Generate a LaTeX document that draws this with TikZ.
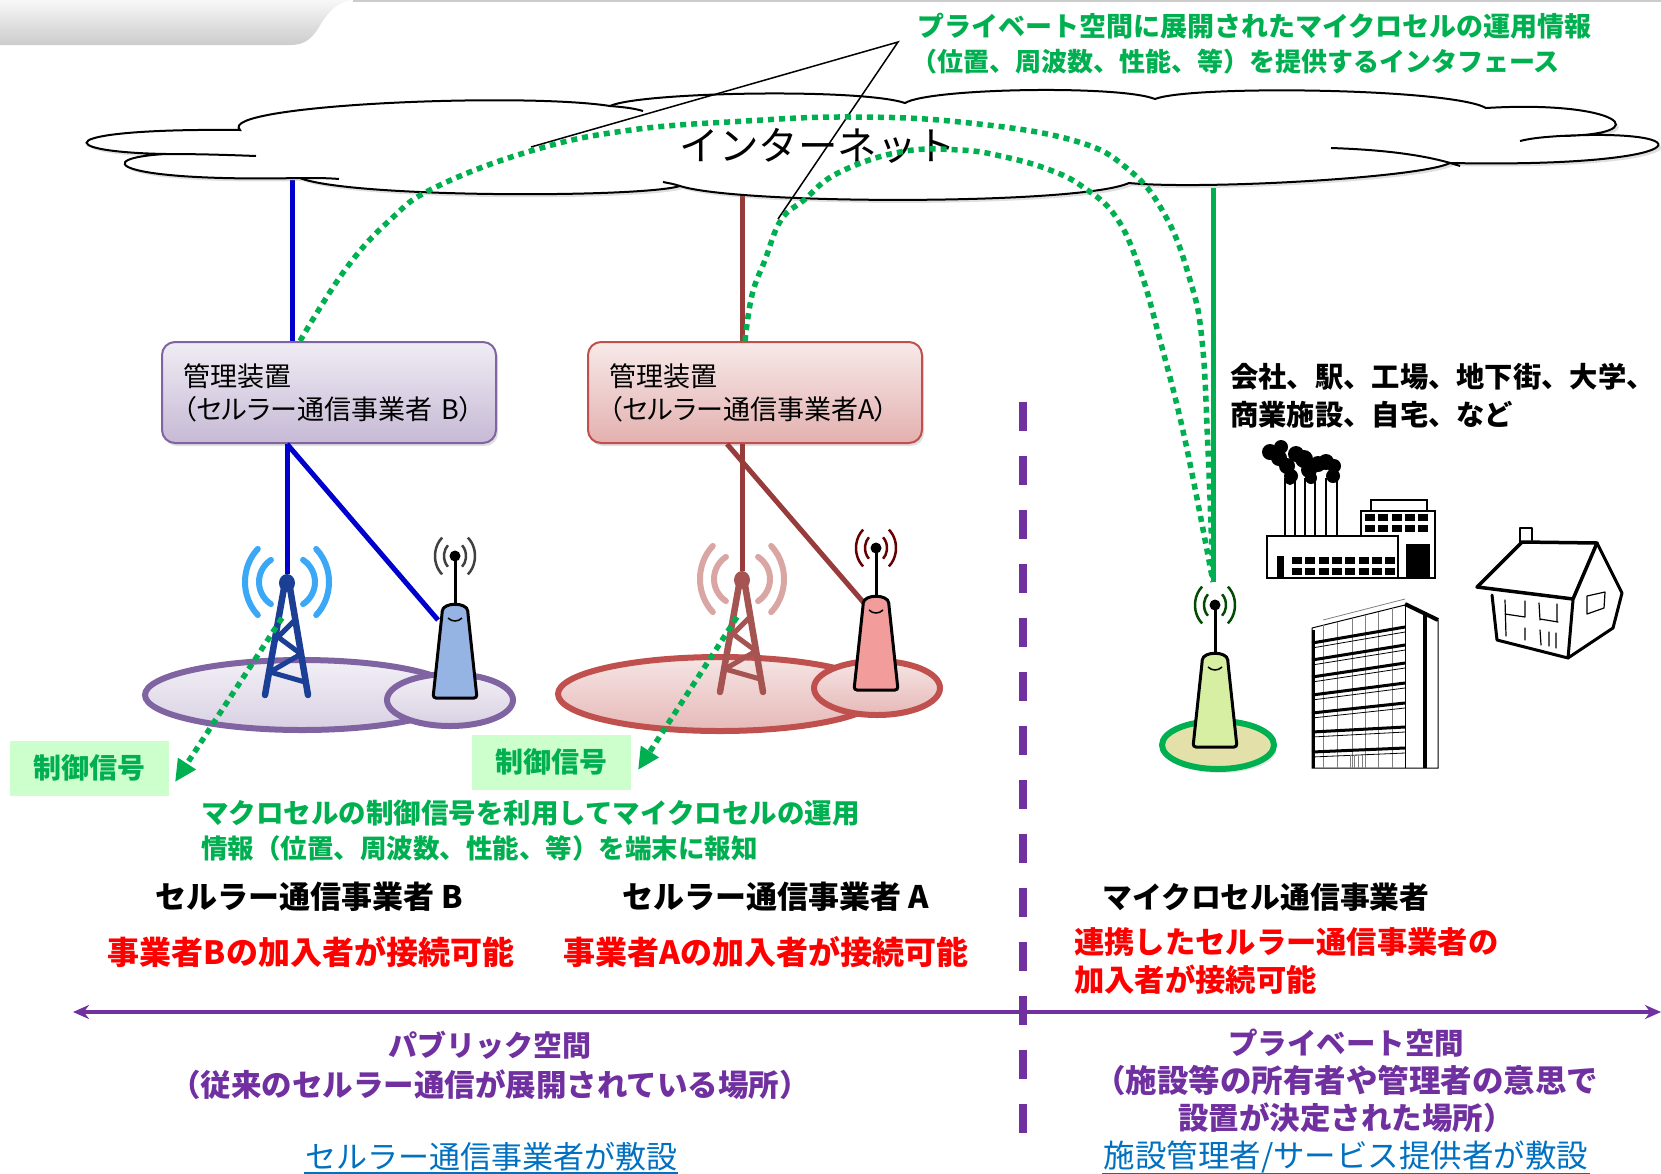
\documentclass[tikz,border=0pt]{standalone}
\usepackage{fontspec}
\setmainfont{Noto Sans CJK JP}
\newfontfamily\jpprop{Noto Sans CJK JP}[RawFeature=+palt]
\usetikzlibrary{arrows.meta,shadows,calc}

\definecolor{lineblue}{HTML}{0000CC}
\definecolor{linebrown}{HTML}{983B3B}
\definecolor{netgreen}{HTML}{00B050}
\definecolor{spacepurple}{HTML}{7030A0}
\definecolor{opB}{HTML}{8064A2}
\definecolor{opA}{HTML}{C0504D}
\definecolor{linkblue}{HTML}{0070C0}
\definecolor{sigfill}{HTML}{CCFFCC}
\definecolor{towerB}{HTML}{1B3F95}
\definecolor{waveB}{HTML}{3BA7F7}
\definecolor{towerA}{HTML}{A65452}
\definecolor{waveA}{HTML}{D9A6A4}
\definecolor{cellB}{HTML}{95B3E3}
\definecolor{cellA}{HTML}{F29C9C}
\definecolor{cellM}{HTML}{D6EFA2}

\tikzset{
  mgmt/.style={draw, rounded corners=13pt, line width=2pt, minimum width=334pt,
    minimum height=101pt, text width=292pt, inner xsep=21pt, align=left,
    font=\jpprop\fontsize{27}{33}\selectfont,
    drop shadow={shadow xshift=2pt, shadow yshift=-3pt, opacity=0.25}},
  uplink/.style={line width=5pt},
  sig/.style={netgreen, line width=5.5pt, dash pattern=on 6pt off 5pt},
  sigtip/.style={-{Triangle[length=22pt, width=20pt]}},
  sigbox/.style={fill=sigfill, text=netgreen, font=\bfseries\fontsize{28}{30}\selectfont,
    minimum width=159pt, minimum height=55pt},
  cover/.style={line width=6pt},
  lbl/.style={inner sep=0pt, font=\bfseries\fontsize{#1}{#1}\selectfont},
  link/.style={inner sep=1pt, text=linkblue, font=\fontsize{#1}{#1}\selectfont},
  pics/smallcell/.style 2 args={code={
    % radio arcs round the antenna tip
    \foreach \rx/\ry in {11/14, 20/24}{
      \draw[#2, line width=2.5pt] (0,-142) ++({\rx*cos(-50)},{\ry*sin(-50)})
        arc[start angle=-50, end angle=50, x radius=\rx, y radius=\ry];
      \draw[#2, line width=2.5pt] (0,-142) ++({\rx*cos(130)},{\ry*sin(130)})
        arc[start angle=130, end angle=230, x radius=\rx, y radius=\ry];
    }
    % antenna
    \draw[line width=3pt] (0,-90) -- (0,-140);
    \fill (0,-142) circle[radius=5.5];
    % body
    \draw[line width=3pt, fill=#1, rounded corners=3pt] (-22,0) -- (-13,-84)
      .. controls (-12,-96) and (12,-96) .. (13,-84) -- (22,0) -- cycle;
    \draw[line width=1.5pt] (-7,-80) .. controls (-3,-76) and (3,-76) .. (7,-80);
  }},
  pics/macrotower/.style 2 args={code={
    % radio waves
    \foreach \rx/\ry/\a/\b/\c in {28/27/55/125/235, 42/46/46/134/226}{
      \draw[#2, line width=6pt, line cap=round] (0,0) ++({\rx*cos(-\a)},{\ry*sin(-\a)})
        arc[start angle=-\a, end angle=\a, x radius=\rx, y radius=\ry];
      \draw[#2, line width=6pt, line cap=round] (0,0) ++({\rx*cos(\b)},{\ry*sin(\b)})
        arc[start angle=\b, end angle=\c, x radius=\rx, y radius=\ry];
    }
    % mast
    \draw[#1, line width=6.5pt, line cap=round] (-3,6) -- (-22,113);
    \draw[#1, line width=6.5pt, line cap=round] (3,6) -- (21,113);
    \draw[#1, line width=5pt, line join=round] (8,38) -- (-9,55) -- (14,72)
      -- (-17,90) -- (18,100);
    \fill[#1] (0,1) ellipse[x radius=8, y radius=9];
  }}
}

\begin{document}
\begin{tikzpicture}[x=1pt, y=-1pt]
\useasboundingbox (0,0) rectangle (1661,1173);

% tab and rule along the top
\shade[top color=gray!6, bottom color=gray!40] (0,0) -- (353,0)
  .. controls (338,2) and (330,10) .. (322,22)
  .. controls (313,38) and (306,45) .. (290,45) -- (0,45) -- cycle;
\draw[gray!40, line width=2pt] (353,1) -- (1661,1);

% points where the links leave the cloud
\coordinate (netB) at (292,180);
\coordinate (netA) at (742,193);
\coordinate (netM) at (1213,188);

% management units
\node[mgmt, draw=opB, top color=opB!12, bottom color=opB!45] (boxB) at (329,392.5)
  {管理装置\\（セルラー通信事業者 B）};
\node[mgmt, draw=opA, top color=opA!12, bottom color=opA!45] (boxA) at (755,392.5)
  {管理装置\\（セルラー通信事業者A）};

% uplinks to the internet
\draw[lineblue, uplink] (netB) -- (netB |- boxB.north);
\draw[linebrown, uplink] (netA) -- (netA |- boxA.north);
\draw[netgreen, uplink] (netM) -- (1213,582) coordinate (mC);

% the internet cloud
\filldraw[fill=white, draw=black, line width=2pt,
    drop shadow={shadow xshift=3pt, shadow yshift=-3pt, opacity=0.25}]
  (240,130) .. controls (215,105) and (520,92) .. (610,106)
  .. controls (640,92) and (860,88) .. (905,103)
  .. controls (930,88) and (1120,85) .. (1155,99)
  .. controls (1190,85) and (1450,88) .. (1486,108)
  .. controls (1620,100) and (1660,135) .. (1560,136)
  .. controls (1710,128) and (1700,168) .. (1450,163)
  .. controls (1420,178) and (1200,190) .. (1129,183)
  .. controls (1080,205) and (740,205) .. (680,186)
  .. controls (640,198) and (350,198) .. (300,178)
  .. controls (110,182) and (90,158) .. (166,154)
  .. controls (50,152) and (50,128) .. cycle;
\draw[line width=2pt] (166,154) .. controls (200,154) and (230,155) .. (256,156);
\draw[line width=2pt] (300,178) .. controls (315,178) and (328,178) .. (339,179);
\draw[line width=2pt] (610,106) .. controls (622,107) and (633,108) .. (643,111);
\draw[line width=2pt] (680,186) .. controls (674,184) and (668,183) .. (663,182);
\draw[line width=2pt] (1331,148) .. controls (1390,150) and (1430,156) .. (1460,166);
\draw[line width=2pt] (1560,136) .. controls (1545,137) and (1532,138) .. (1520,141);

\node[inner sep=0pt, font=\fontsize{39.5}{40}\selectfont] (net) at (818,146) {インターネット};

% callout for the interface
\coordinate (callTip) at (898,42);
\coordinate (callL) at (531,147);
\coordinate (callR) at (778,219);
\draw[line width=1.5pt] (callL) -- (callTip) -- (callR);
\node[inner sep=0pt, anchor=west, align=left, text=netgreen,
  font=\bfseries\fontsize{27}{35}\selectfont] (callTxt) at (917,43.5)
  {プライベート空間に展開されたマイクロセルの運用情報\\
  {\fontsize{26}{35}\selectfont\hspace*{-6pt}（位置、周波数、性能、等）を提供するインタフェース}};

% cell coverage
\draw[cover, draw=opB, top color=opB!10, bottom color=opB!30] (302,695) ellipse[x radius=157, y radius=35];
\draw[cover, draw=opB, top color=opB!10, bottom color=opB!30] (450,700) ellipse[x radius=63, y radius=26];
\draw[cover, draw=opA, top color=opA!15, bottom color=opA!40] (720,694) ellipse[x radius=162, y radius=37];
\draw[cover, draw=opA, top color=opA!15, bottom color=opA!40] (877,688) ellipse[x radius=63, y radius=27];
\draw[cover, draw=netgreen, fill=olive!25!white, drop shadow={shadow yshift=-4pt, opacity=0.2}]
  (1218,745) ellipse[x radius=56, y radius=24];

% base stations
\coordinate (tB) at (287,574);
\coordinate (tA) at (742,571);
\coordinate (scB) at (438,620);
\coordinate (scA) at (864,603);
\draw[lineblue, uplink] (boxB.south -| tB) -- (tB);
\draw[lineblue, uplink] (boxB.south -| tB) -- (scB);
\draw[linebrown, uplink] (boxA.south -| tA) -- (tA);
\draw[linebrown, uplink] ($(boxA.south -| tA)+(-15,0)$) -- (scA);
\pic at (287,582) {macrotower={towerB}{waveB}};
\pic at (742,579) {macrotower={towerA}{waveA}};
\pic at (455,698) {smallcell={cellB}{black!75}};
\pic at (876,690) {smallcell={cellA}{red!40!black}};
\pic at (1215,747) {smallcell={cellM}{green!30!black}};

% operation info paths through the internet
\draw[sig] plot[smooth, tension=0.7] coordinates {($(boxB.north)+(-29,0)$) (345,270) (390,220)
  (436,187) (534,150) (631,130) (746,121) (850,117) (960,122) (1072,140) (1129,170)
  (1166,217) (1190,280) (1202,340) (1208,450) (mC)};
\draw[sig] plot[smooth, tension=0.7] coordinates {($(boxA.north)+(-10,0)$) (752,295) (765,260)
  (781,220) (804,200) (838,173) (900,152) (960,150) (1005,157) (1050,170) (1083,187)
  (1116,217) (1140,270) (1160,340) (1185,440) (mC)};

% control signals from the macro cells
\node[sigbox] (ctrlB) at (89,768) {制御信号};
\node[sigbox] (ctrlA) at (551,762) {制御信号};
\coordinate (sigB) at (282,618);
\coordinate (sigA) at (737,617);
\draw[sig, sigtip] (sigB) -- (175,782) coordinate (sigBend);
\draw[sig, sigtip] (sigA) -- (638,770) coordinate (sigAend);

\node[inner sep=0pt, anchor=west, align=left, text=netgreen,
  font=\bfseries\fontsize{27.5}{35}\selectfont] (expl) at (201,830.5)
  {マクロセルの制御信号を利用してマイクロセルの運用\\
  {\fontsize{26.5}{35}\selectfont 情報（位置、周波数、性能、等）を端末に報知}};

% operators
\node[lbl=31] (opBname) at (309,897) {セルラー通信事業者 B};
\node[lbl=31] (opAname) at (776,897) {セルラー通信事業者 A};
\node[lbl=32, text=red] (opBuser) at (311,952) {事業者Bの加入者が接続可能};
\node[lbl=32, text=red] (opAuser) at (766,952) {事業者Aの加入者が接続可能};
\node[lbl=29.8, anchor=west] (opMname) at (1102,897) {マイクロセル通信事業者};
\node[lbl=30, anchor=west, align=left, text=red, font=\bfseries\fontsize{30.3}{38}\selectfont]
  (opMuser) at (1074,961) {連携したセルラー通信事業者の\\加入者が接続可能};

% places for the micro cell
\node[lbl=28, anchor=west, align=left, font=\bfseries\fontsize{28.3}{38}\selectfont]
  (places) at (1230,396) {会社、駅、工場、地下街、大学、\\商業施設、自宅、など};

% factory
\begin{scope}[line width=1.2pt]
  \draw[fill=white] (1371,500) rectangle (1427,511);
  \draw[fill=white] (1361,511) rectangle (1435,578);
  \draw[fill=white] (1267,536) rectangle (1398,578);
  \foreach \x in {1285,1295,1305,1315,1326,1337} \draw (\x,478) -- (\x,536);
  \foreach \i in {0,...,4}{
    \fill (1365+13.3*\i,514) rectangle ++(10,7);
    \fill (1365+13.3*\i,525) rectangle ++(10,7);
  }
  \foreach \i in {0,...,7}{
    \fill (1292+13.3*\i,557) rectangle ++(10,7);
    \fill (1292+13.3*\i,568) rectangle ++(10,7);
  }
  \fill (1277,556) rectangle (1284,578);
  \fill (1406,544) rectangle (1430,578);
  % smoke
  \foreach \x/\y/\r in {1270/452/8, 1281/447/7, 1279/458/8, 1287/466/8, 1291/476/7,
      1296/454/8, 1304/459/9, 1309/470/8, 1311/478/6, 1318/464/8, 1326/462/8,
      1334/466/7, 1333/476/7, 1290/480/5}
    \fill (\x,\y) circle[radius=\r];
\end{scope}

% office building
\draw[line width=1pt, fill=white] (1312,628) -- (1405,605) -- (1438,620) -- (1438,768)
  -- (1312,768) -- cycle;
\draw[gray, line width=0.8pt] (1323,620) -- (1405,599);
\foreach \x in {1323,1337,1352,1365,1378,1392}
  \draw[gray, line width=0.7pt] (\x,{628-23*(\x-1312)/93}) -- (\x,768);
\foreach \l/\r in {643/627, 660/645, 677/663, 695/683, 713/703, 732/727, 752/748}{
  \draw[line width=3pt] (1312,\l) -- (1405,\r);
  \draw[line width=0.8pt] (1312,\l+5) -- (1405,\r+5);
}
\draw[line width=3pt] (1313,630) -- (1313,768);
\draw[line width=1pt] (1405,605) -- (1405,768);
\draw[line width=4pt] (1405,604) -- (1438,620);
\draw[line width=4pt] (1425,612) -- (1425,768);
\foreach \x in {1350,1354,1358,1362} \draw[gray, line width=0.6pt] (\x,755) -- (\x,768);

% house
\begin{scope}[line cap=round, line join=round]
  \draw[line width=2pt] (1520,545) -- (1520,528) -- (1532,528) -- (1532,540);
  \draw[line width=3.5pt, fill=white] (1477,587) -- (1522,542) -- (1597,543) -- (1573,599) -- cycle;
  \draw[line width=3pt] (1597,543) -- (1622,593) -- (1613,628) -- (1568,658);
  \draw[line width=3pt] (1492,595) -- (1497,640) -- (1568,658) -- (1573,600);
  \draw[line width=1.2pt] (1505,600) -- (1506,636) (1505,614) -- (1525,617) (1525,601) -- (1525,617)
    (1539,603) -- (1540,620) (1540,619) -- (1558,622) (1557,604) -- (1557,622)
    (1525,628) -- (1525,640) (1540,630) -- (1541,645) (1549,632) -- (1549,646)
    (1556,633) -- (1556,648);
  \draw[line width=1.2pt] (1587,596) -- (1605,592) -- (1604,608) -- (1587,614) -- cycle;
\end{scope}

% public / private divider and axis
\coordinate (divTop) at (1023,402);
\coordinate (divBot) at (1023,1149);
\draw[spacepurple, line width=8pt, dash pattern=on 29pt off 25pt] (divTop) -- (divBot);
\coordinate (axL) at (73,1012);
\coordinate (axR) at (1661,1012);
\draw[spacepurple, line width=4pt, {Stealth[length=16pt, width=14pt]}-{Stealth[length=16pt, width=14pt]}]
  (axL) -- (axR);

\node[align=center, inner sep=0pt, text=spacepurple, font=\bfseries\fontsize{29}{40}\selectfont]
  (pub) at (490,1065) {パブリック空間\\{\fontsize{30.5}{40}\selectfont（従来のセルラー通信が展開されている場所）}};
\node[align=center, inner sep=0pt, text=spacepurple, font=\bfseries\fontsize{29.5}{37.5}\selectfont]
  (priv) at (1346,1081) {プライベート空間\\{\fontsize{31.5}{37.5}\selectfont（施設等の所有者や管理者の意思で}\\
  {\fontsize{30.5}{37.5}\selectfont 設置が決定された場所）}};
\node[link=31] (pubBy) at (491,1157) {セルラー通信事業者が敷設};
\node[link=31.5] (privBy) at (1346,1157) {施設管理者/サービス提供者が敷設};
\draw[linkblue, line width=2pt] (pubBy.south west) -- (pubBy.south east);
\draw[linkblue, line width=2pt] (privBy.south west) -- (privBy.south east);
\end{tikzpicture}
\end{document}
